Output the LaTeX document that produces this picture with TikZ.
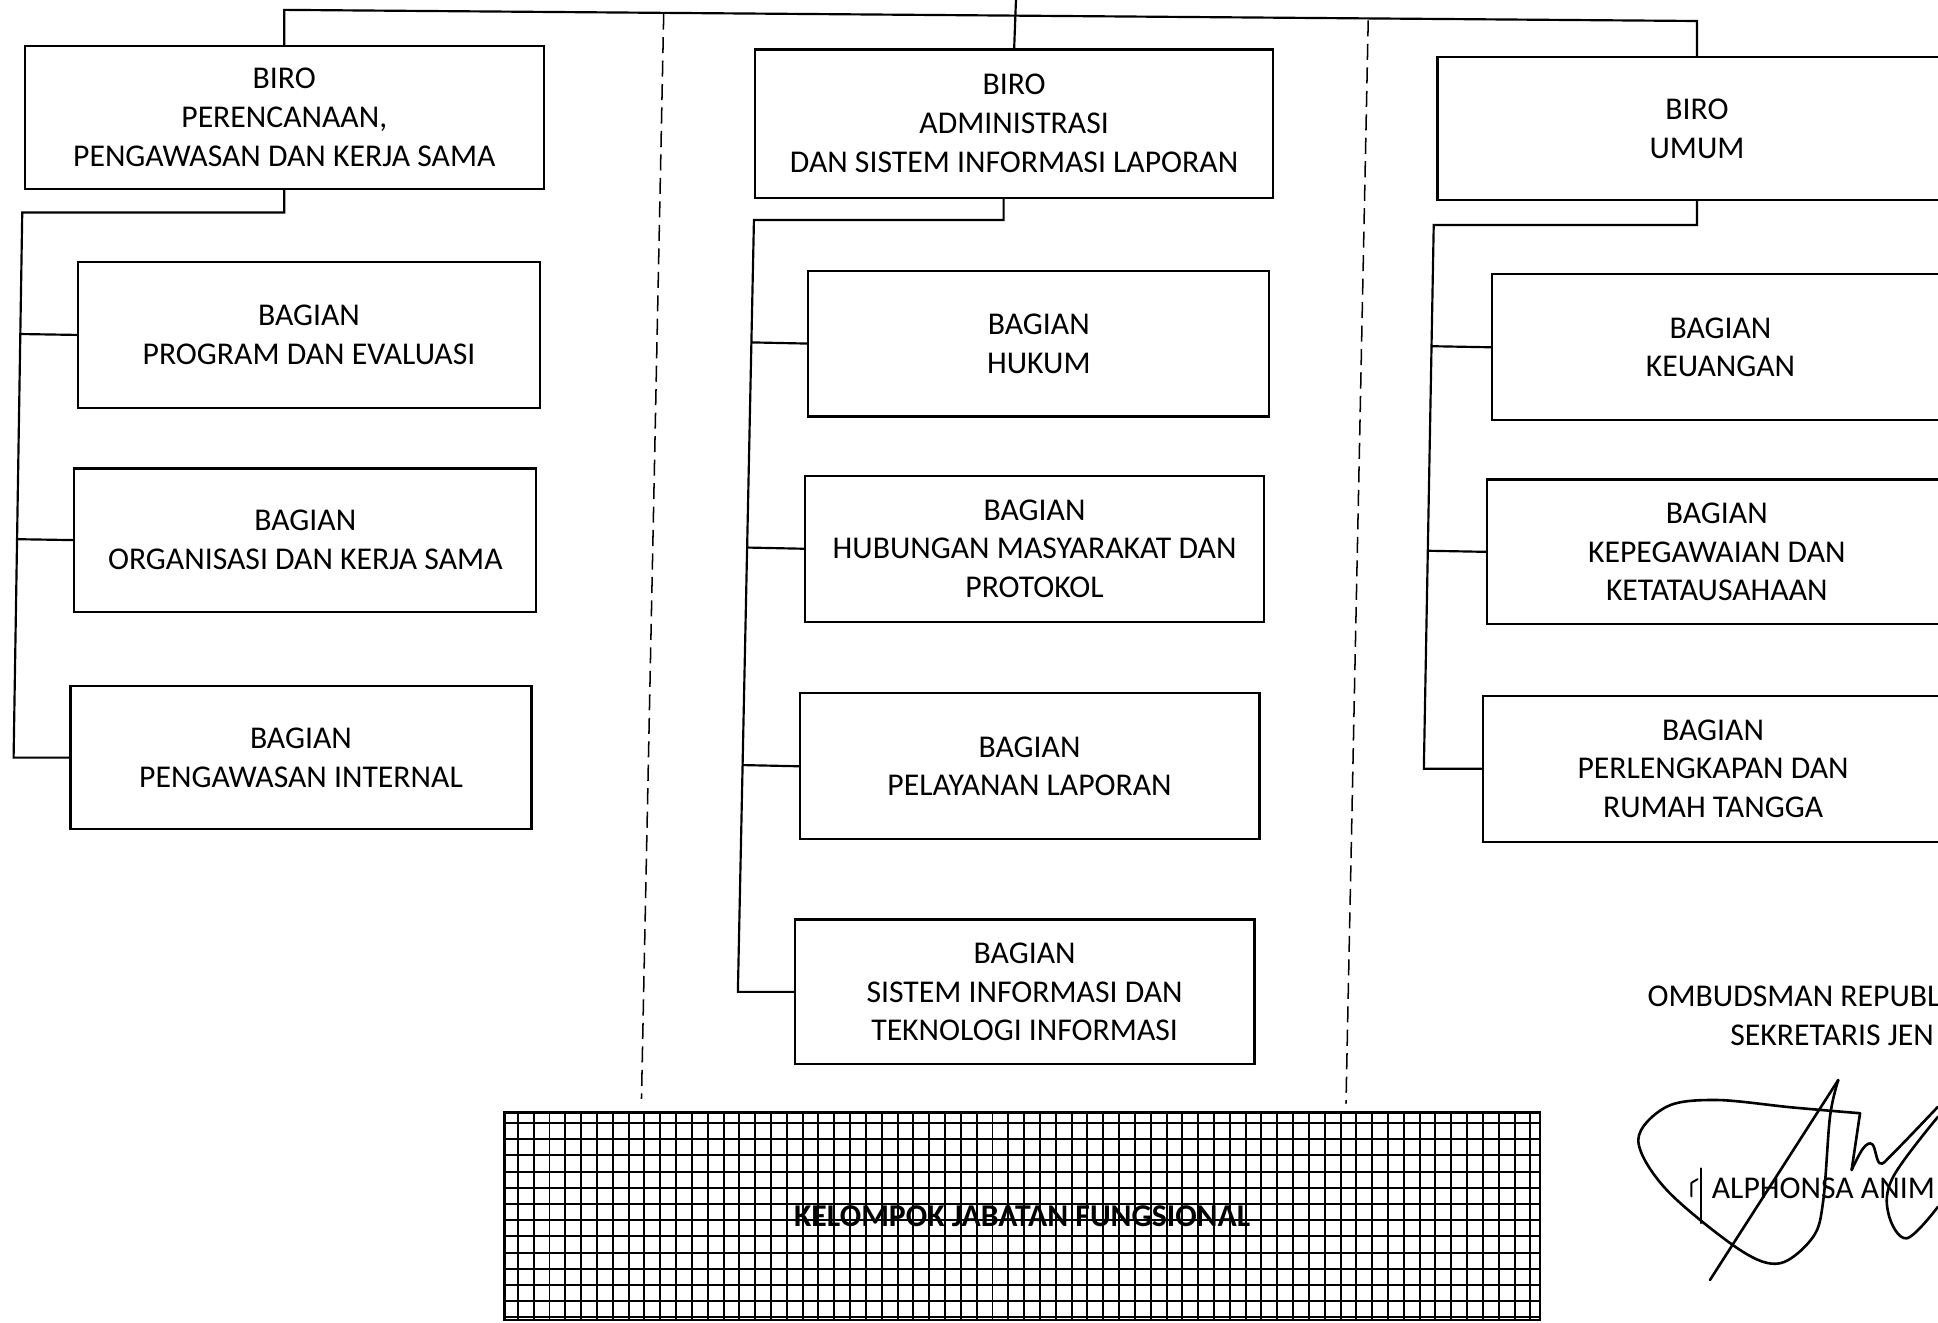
\documentclass[tikz,border=0pt]{standalone}
\usepackage{fontspec}
\setmainfont{Carlito}
\usetikzlibrary{calc}
\newcommand\orgfont{\fontsize{14.6pt}{17.9pt}\selectfont}
\begin{document}
\begin{tikzpicture}[x=0.02cm,y=-0.02cm,
  orgbox/.style={draw,line width=1pt,inner sep=0pt,outer sep=0pt,align=center,font=\orgfont},
  conn/.style={line width=1pt},
  sepline/.style={line width=0.7pt,dash pattern=on 0.26cm off 0.12cm},
  gridln/.style={line width=0.9pt},
  sig/.style={line width=1.2pt,line cap=round,line join=round},
  plain/.style={inner sep=0pt,outer sep=0pt,font=\orgfont}]
\useasboundingbox (0,0) rectangle (1568,1070);
\clip (0,0) rectangle (1568,1070);

% ---------- column 1 ----------
\node[orgbox,minimum width=8.4cm,minimum height=2.32cm] (b1) at (230,95)
  {BIRO\\PERENCANAAN,\\PENGAWASAN DAN KERJA SAMA};
\node[orgbox,minimum width=7.48cm,minimum height=2.36cm] (p1) at (250,271)
  {BAGIAN\\PROGRAM DAN EVALUASI};
\node[orgbox,minimum width=7.48cm,minimum height=2.32cm] (p2) at (247,437)
  {BAGIAN\\ORGANISASI DAN KERJA SAMA};
\node[orgbox,minimum width=7.46cm,minimum height=2.32cm] (p3) at (243.5,613)
  {BAGIAN\\PENGAWASAN INTERNAL};

% ---------- column 2 ----------
\node[orgbox,minimum width=8.38cm,minimum height=2.4cm] (b2) at (820.5,100)
  {BIRO\\ADMINISTRASI\\DAN SISTEM INFORMASI LAPORAN};
\node[orgbox,minimum width=7.46cm,minimum height=2.36cm] (a1) at (840.5,278)
  {BAGIAN\\HUKUM};
\node[orgbox,minimum width=7.44cm,minimum height=2.36cm] (a2) at (837,444)
  {BAGIAN\\HUBUNGAN MASYARAKAT DAN\\PROTOKOL};
\node[orgbox,minimum width=7.44cm,minimum height=2.36cm] (a3) at (833,620)
  {BAGIAN\\PELAYANAN LAPORAN};
\node[orgbox,minimum width=7.44cm,minimum height=2.34cm] (a4) at (829,802.5)
  {BAGIAN\\SISTEM INFORMASI DAN\\TEKNOLOGI INFORMASI};

% ---------- column 3 ----------
\node[orgbox,minimum width=8.4cm,minimum height=2.32cm] (b3) at (1373,104)
  {BIRO\\UMUM};
\node[orgbox,minimum width=7.4cm,minimum height=2.36cm] (u1) at (1392,281)
  {BAGIAN\\KEUANGAN};
\node[orgbox,minimum width=7.44cm,minimum height=2.34cm] (u2) at (1389,446.5)
  {BAGIAN\\KEPEGAWAIAN DAN\\KETATAUSAHAAN};
\node[orgbox,minimum width=7.44cm,minimum height=2.36cm] (u3) at (1386,622)
  {BAGIAN\\PERLENGKAPAN DAN\\RUMAH TANGGA};

% ---------- top connectors ----------
\coordinate (tl) at (231,8);
\coordinate (tr) at (1373,17);
\coordinate (tc) at (822,0);
\draw[conn] (b1.north) -- (b1.north |- tl) -- (tr) -- (b3.north);
\draw[conn] (tc) -- (b2.north);

% ---------- column 1 tree ----------
\coordinate (ltop) at (18,172);
\coordinate (lbot) at (11,613);
\draw[conn] (b1.south) -- (b1.south |- ltop) -- (ltop) -- (lbot) -- (p3.west);
\draw[conn] (p1.west) -- ($(ltop)!(p1.west)!(lbot)$);
\draw[conn] (p2.west) -- ($(ltop)!(p2.west)!(lbot)$);

% ---------- column 2 tree ----------
\coordinate (mdrop) at (812,160);
\coordinate (mtop) at (610,178);
\coordinate (mbot) at (597,802.5);
\draw[conn] (mdrop) -- (mdrop |- mtop) -- (mtop) -- (mbot) -- (a4.west);
\draw[conn] (a1.west) -- ($(mtop)!(a1.west)!(mbot)$);
\draw[conn] (a2.west) -- ($(mtop)!(a2.west)!(mbot)$);
\draw[conn] (a3.west) -- ($(mtop)!(a3.west)!(mbot)$);

% ---------- column 3 tree ----------
\coordinate (rtop) at (1160,182);
\coordinate (rbot) at (1152,622);
\draw[conn] (b3.south) -- (b3.south |- rtop) -- (rtop) -- (rbot) -- (u3.west);
\draw[conn] (u1.west) -- ($(rtop)!(u1.west)!(rbot)$);
\draw[conn] (u2.west) -- ($(rtop)!(u2.west)!(rbot)$);

% ---------- dashed separators ----------
\coordinate (d1a) at (537,11);
\coordinate (d1b) at (519,889);
\coordinate (d2a) at (1107,16.5);
\coordinate (d2b) at (1089,893);
\draw[sepline] (d1a) -- (d1b);
\draw[sepline] (d2a) -- (d2b);

% ---------- kelompok jabatan fungsional ----------
\foreach \k in {0,...,64} \draw[gridln] ({419+12.8*\k},900) -- ({419+12.8*\k},1068);
\foreach \k in {0,...,12} \draw[gridln] (408,{908.6+13.1*\k}) -- (1246,{908.6+13.1*\k});
\node[draw,line width=1.2pt,inner sep=0pt,outer sep=0pt,minimum width=16.76cm,minimum height=3.36cm,
      font=\orgfont\bfseries] (kjf) at (827,984) {KELOMPOK JABATAN FUNGSIONAL};

% ---------- signature block ----------
\node[plain,anchor=base west] (om) at (1333,814) {OMBUDSMAN REPUBL};
\node[plain,anchor=base west] (sj) at (1400,846) {SEKRETARIS JEN};
\node[plain,anchor=base west] (nm) at (1385,969.5) {ALPHONSA ANIM};

\draw[sig] (1383.5,1035.6) -- (1487.3,873.8);
\draw[sig] plot[smooth,tension=0.55] coordinates {(1487.3,873.8) (1480.6,903.5) (1475.2,970.9)
  (1467.1,1000.5) (1440.1,1022.1) (1407.8,1011.3) (1348.5,962.8) (1325.5,922.3)
  (1348.5,895.4) (1388.9,890) (1450,896) (1504.9,900.7)};
\draw[sig] (1504.9,900.7) -- (1498.1,946.6);
\draw[sig] plot[smooth,tension=0.6] coordinates {(1498.1,946.6) (1507.5,929) (1515,926)
  (1521,941.2) (1531.8,933) (1568,895.4)};
\draw[sig] plot[smooth,tension=0.6] coordinates {(1568,976.3) (1542.6,1001.9) (1527.8,981.6)
  (1531.8,952) (1568,903.5)};
\draw[sig,line width=0.9pt] (1376,945.3) -- (1376,989.7);
\draw[sig,line width=0.9pt] (1368.5,968) -- (1368.5,957) -- (1373.5,954);
\end{tikzpicture}
\end{document}
